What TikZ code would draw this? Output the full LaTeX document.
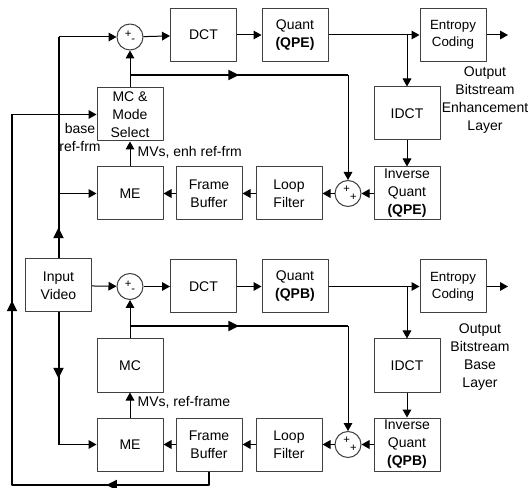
\documentclass[tikz,border=0pt]{standalone}
\usepackage{fontspec}
\setmainfont{Liberation Sans}
\usetikzlibrary{arrows.meta,calc,positioning,decorations.markings}
\tikzset{blk/.style={draw=black!75,line width=0.75pt,minimum width=49.5pt,minimum height=39.75pt,inner sep=0pt,align=center,font=\fontsize{10.5}{13.5}\selectfont}}
\tikzset{sumc/.style={draw=black!75,circle,line width=0.75pt,minimum size=19.5pt,inner sep=0pt,font=\fontsize{8.5}{8.5}\selectfont}}
\tikzset{txt/.style={align=center,inner sep=1pt,font=\fontsize{10.5}{13.5}\selectfont}}
\tikzset{sig/.style={-{Triangle[length=6pt,width=6.5pt]},line width=0.75pt}}
\tikzset{bus/.style={line width=1.5pt}}
\tikzset{midarr/.style={postaction={decorate,decoration={markings,mark=at position #1 with {\arrow{Triangle[length=8pt,width=7.5pt]}}}}}}

\begin{document}
\begin{tikzpicture}[x=0.75pt,y=-0.75pt,line join=round]
\useasboundingbox (0,0) rectangle (532,488);
% --- enhancement layer
\node[sumc] (subE) at (130,37) {\raisebox{1pt}{+}\raisebox{-3pt}{-}\hspace{4pt}};
\node[blk] (dctE) at (203.5,35) {DCT};
\node[blk] (qE) at (295,35) {Quant\\\textbf{(QPE)}};
\node[blk,font=\fontsize{10}{12.75}\selectfont] (ecE) at (453,35) {Entropy\\Coding};
\node[blk] (idctE) at (407,113.5) {IDCT};
\node[blk] (iqE) at (407,193.5) {Inverse\\Quant\\\textbf{(QPE)}};
\node[sumc] (addE) at (348,193.5) {\hspace{3pt}\raisebox{5pt}{+}\raisebox{-1pt}{+}};
\node[blk] (lfE) at (289,193.5) {Loop\\Filter};
\node[blk] (fbE) at (209,193.5) {Frame\\Buffer};
\node[blk] (meE) at (130,193.5) {ME};
\node[blk] (mcE) at (130,114.5) {MC \&\\Mode\\Select};
\node[txt] (outE) at (485,100.5) {Output\\Bitstream\\Enhancement\\Layer};
\node[txt,anchor=west] (mvE) at (136,152) {MVs, enh ref-frm};
\node[txt] (baseE) at (80,137) {base\\ref-frm};
\coordinate (tapE) at (130,75);
\coordinate (spE) at (407,35);
\coordinate (endE) at (508,35);
% --- base layer
\node[blk] (vid) at (58.5,285.5) {Input\\Video};
\node[sumc] (subB) at (130,286.5) {\raisebox{1pt}{+}\raisebox{-3pt}{-}\hspace{4pt}};
\node[blk] (dctB) at (203.5,286.5) {DCT};
\node[blk] (qB) at (295,286.5) {Quant\\\textbf{(QPB)}};
\node[blk,font=\fontsize{10}{12.75}\selectfont] (ecB) at (453,286.5) {Entropy\\Coding};
\node[blk] (idctB) at (407,365.5) {IDCT};
\node[blk] (iqB) at (407,444.5) {Inverse\\Quant\\\textbf{(QPB)}};
\node[sumc] (addB) at (348,444.5) {\hspace{3pt}\raisebox{5pt}{+}\raisebox{-1pt}{+}};
\node[blk] (lfB) at (289,444.5) {Loop\\Filter};
\node[blk] (fbB) at (209,444.5) {Frame\\Buffer};
\node[blk] (meB) at (130,444.5) {ME};
\node[blk] (mcB) at (130,365.5) {MC};
\node[txt] (outB) at (480,357.5) {Output\\Bitstream\\Base\\Layer};
\node[txt,anchor=west] (mvB) at (136,402) {MVs, ref-frame};
\coordinate (tapB) at (130,326);
\coordinate (spB) at (407,286.5);
\coordinate (endB) at (508,286.5);
\coordinate (lftE) at (vid.north |- subE.west);
\coordinate (lftB) at (vid.south |- meB.west);
\coordinate (fbk) at (12,485);
\coordinate (fbkTop) at (fbk |- mcE.west);

% forward paths
\draw[sig] (subE) -- (dctE); \draw[sig] (dctE) -- (qE); \draw[sig] (qE) -- (ecE); \draw[sig] (ecE) -- (endE);
\draw[sig] (spE) -- (idctE); \draw[sig] (idctE) -- (iqE); \draw[sig] (iqE) -- (addE);
\draw[sig] (addE) -- (lfE); \draw[sig] (lfE) -- (fbE); \draw[sig] (fbE) -- (meE);
\draw[sig] (meE) -- (mcE); \draw[sig] (mcE) -- (subE);
\draw[bus,midarr=0.5] (tapE) -- (tapE -| addE); \draw[sig] (tapE -| addE) -- (addE);
\draw[sig] (vid) -- (subB); \draw[sig] (subB) -- (dctB); \draw[sig] (dctB) -- (qB); \draw[sig] (qB) -- (ecB); \draw[sig] (ecB) -- (endB);
\draw[sig] (spB) -- (idctB); \draw[sig] (idctB) -- (iqB); \draw[sig] (iqB) -- (addB);
\draw[sig] (addB) -- (lfB); \draw[sig] (lfB) -- (fbB); \draw[sig] (fbB) -- (meB);
\draw[sig] (meB) -- (mcB); \draw[sig] (mcB) -- (subB);
\draw[bus,midarr=0.5] (tapB) -- (tapB -| addB); \draw[sig] (tapB -| addB) -- (addB);
% input video to both layers
\draw[bus,midarr=0.14] (vid.north) -- (lftE); \draw[sig] (lftE) -- (subE);
\draw[sig] (vid.north |- meE.west) -- (meE);
\draw[bus,midarr=0.5] (vid.south) -- (lftB); \draw[sig] (lftB) -- (meB);
% base reference frame
\draw[bus,midarr=0.2,midarr=0.68] (fbB.south) |- (fbk) -- (fbkTop); \draw[sig] (fbkTop) -- (mcE);
\end{tikzpicture}
\end{document}
